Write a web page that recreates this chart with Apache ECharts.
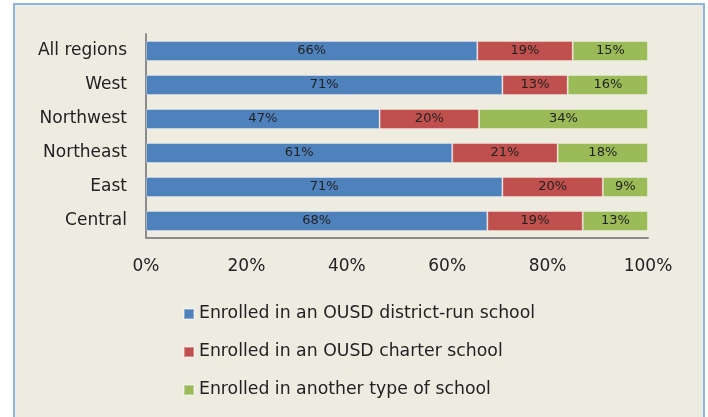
<!DOCTYPE html>
<html>
<head>
<meta charset="utf-8">
<script src="https://cdn.jsdelivr.net/npm/echarts@6/dist/echarts.min.js"></script>
<style>
  html, body { margin: 0; padding: 0; background: #ffffff; }
  #box { position: absolute; left: 13px; top: 3px; width: 688px; height: 420px;
         border: 2px solid #8db4e2; background: #eeebe1; }
  #chart { position: absolute; left: 0; top: 0; width: 708px; height: 417px; }
</style>
</head>
<body>
<div id="box"></div>
<div id="chart"></div>
<script>
var regions = ['All regions', 'West', 'Northwest', 'Northeast', 'East', 'Central'];
var seriesNames = ['Enrolled in an OUSD district-run school', 'Enrolled in an OUSD charter school', 'Enrolled in another type of school'];
var districtRun = [66, 71, 47, 61, 71, 68];
var charter = [19, 13, 20, 21, 20, 19];
var other = [15, 16, 34, 18, 9, 13];
var ticks = ['0%', '20%', '40%', '60%', '80%', '100%'];
var colors = ['#4f81bd', '#c0504d', '#9bbb59'];

// 100% stacked: each row is scaled to its own total
var raw = [districtRun, charter, other];
var totals = regions.map(function (r, i) { return districtRun[i] + charter[i] + other[i]; });

var myChart = echarts.init(document.getElementById('chart'));
var font = 'DejaVu Sans';
myChart.setOption({
	animation: false,
	textStyle: { fontFamily: font },
	grid: { left: 146, right: 60, top: 34, height: 204 },
	legend: {
		orient: 'vertical',
		left: 178,
		top: 299,
		itemWidth: 10,
		itemHeight: 10,
		itemGap: 18,
		icon: 'rect',
		textStyle: { fontSize: 17.3, color: '#222', fontFamily: font, lineHeight: 20 },
		data: seriesNames
	},
	xAxis: {
		type: 'value',
		min: 0,
		max: 100,
		interval: 20,
		axisLine: { show: true, lineStyle: { color: '#8c8c8c', width: 2 } },
		axisTick: { show: false },
		splitLine: { show: false },
		axisLabel: {
			margin: 20,
			fontSize: 17,
			color: '#222',
			formatter: function (v) { return ticks[v / 20]; }
		}
	},
	yAxis: {
		type: 'category',
		inverse: true,
		data: regions,
		axisLine: { show: true, lineStyle: { color: '#8c8c8c', width: 2 } },
		axisTick: { show: false },
		axisLabel: { margin: 19, fontSize: 17, color: '#222' }
	},
	series: raw.map(function (arr, s) {
		return {
			name: seriesNames[s],
			type: 'bar',
			stack: 'total',
			barWidth: 20,
			itemStyle: { color: colors[s], borderColor: 'rgba(255,255,255,0.35)', borderWidth: 1 },
			label: {
				show: true,
				position: 'inside',
				fontSize: 13,
				color: '#222',
				formatter: function (p) { return arr[p.dataIndex] + '%'; }
			},
			data: arr.map(function (v, i) { return v / totals[i] * 100; })
		};
	})
});
</script>
</body>
</html>
